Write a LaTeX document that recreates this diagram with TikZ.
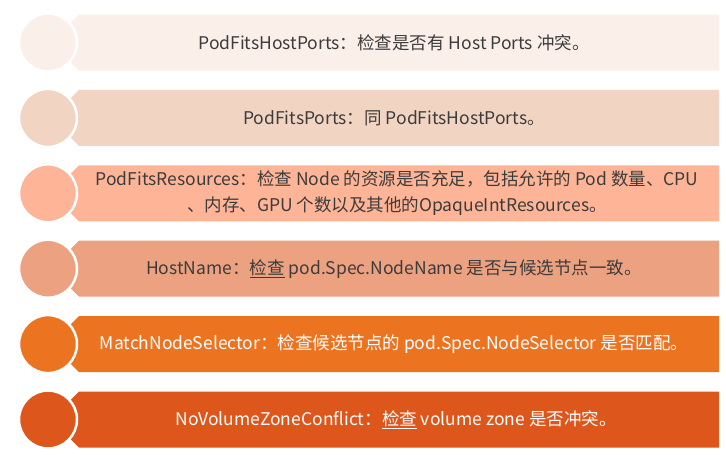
\documentclass[tikz,border=0pt]{standalone}
\usepackage{fontspec}
\setmainfont{Noto Sans CJK SC}
\definecolor{bgc}{HTML}{FFFFFF}
\definecolor{cA}{HTML}{FBEFEA}
\definecolor{cB}{HTML}{F2D4C3}
\definecolor{cC}{HTML}{FEB496}
\definecolor{cD}{HTML}{ECA181}
\definecolor{cE}{HTML}{EC7320}
\definecolor{cF}{HTML}{DD561B}
\definecolor{txtd}{HTML}{3C3C3C}
\newcommand{\ulw}[1]{\underline{#1}}
\tikzset{
  band/.style={fill=#1, draw=none},
  disc/.style={circle, fill=#1, draw=white, line width=2.5pt, minimum size=58pt, inner sep=0pt},
  lbl/.style={font=\fontsize{17.5}{26.5}\selectfont, align=center, text=#1},
}
\begin{document}
\begin{tikzpicture}[x=1pt,y=-1pt]
\useasboundingbox[fill=bgc] (0,0) rectangle (726,459);
\foreach \i/\c in {0/cA,1/cB,2/cC,3/cD,4/cE,5/cF}{
  \pgfmathsetmacro{\cy}{42.5+75.4*\i}
  \pgfmathsetmacro{\t}{\cy-28}
  \pgfmathsetmacro{\b}{\cy+28}
  \fill[\c] (79,\t) -- (719,\t) -- (719,\b) -- (79,\b) -- (71,\b-8) -- (71,\t+8) -- cycle;
}
\node[disc=cA] (c1) at (48,42.5) {};
\node[disc=cB] (c2) at (48,117.9) {};
\node[disc=cC] (c3) at (48,193.3) {};
\node[disc=cD] (c4) at (48,268.7) {};
\node[disc=cE] (c5) at (48,344.1) {};
\node[disc=cF] (c6) at (48,419.5) {};
\node[lbl=txtd] (r1) at (394,42.5) {PodFitsHostPorts：检查是否有 Host Ports 冲突。};
\node[lbl=txtd] (r2) at (394,117.9) {PodFitsPorts：同 PodFitsHostPorts。};
\node[lbl=txtd] (r3) at (397,193.3) {PodFitsResources：检查 Node 的资源是否充足，包括允许的 Pod 数量、CPU\\、内存、GPU 个数以及其他的OpaqueIntResources。};
\node[lbl=txtd] (r4) at (394,268.7) {HostName：\ulw{检查} pod.Spec.NodeName 是否与候选节点一致。};
\node[lbl=white] (r5) at (394,344.1) {MatchNodeSelector：检查候选节点的 pod.Spec.NodeSelector 是否匹配。};
\node[lbl=white] (r6) at (396,419.5) {NoVolumeZoneConflict：\ulw{检查} volume zone 是否冲突。};
\end{tikzpicture}
\end{document}
